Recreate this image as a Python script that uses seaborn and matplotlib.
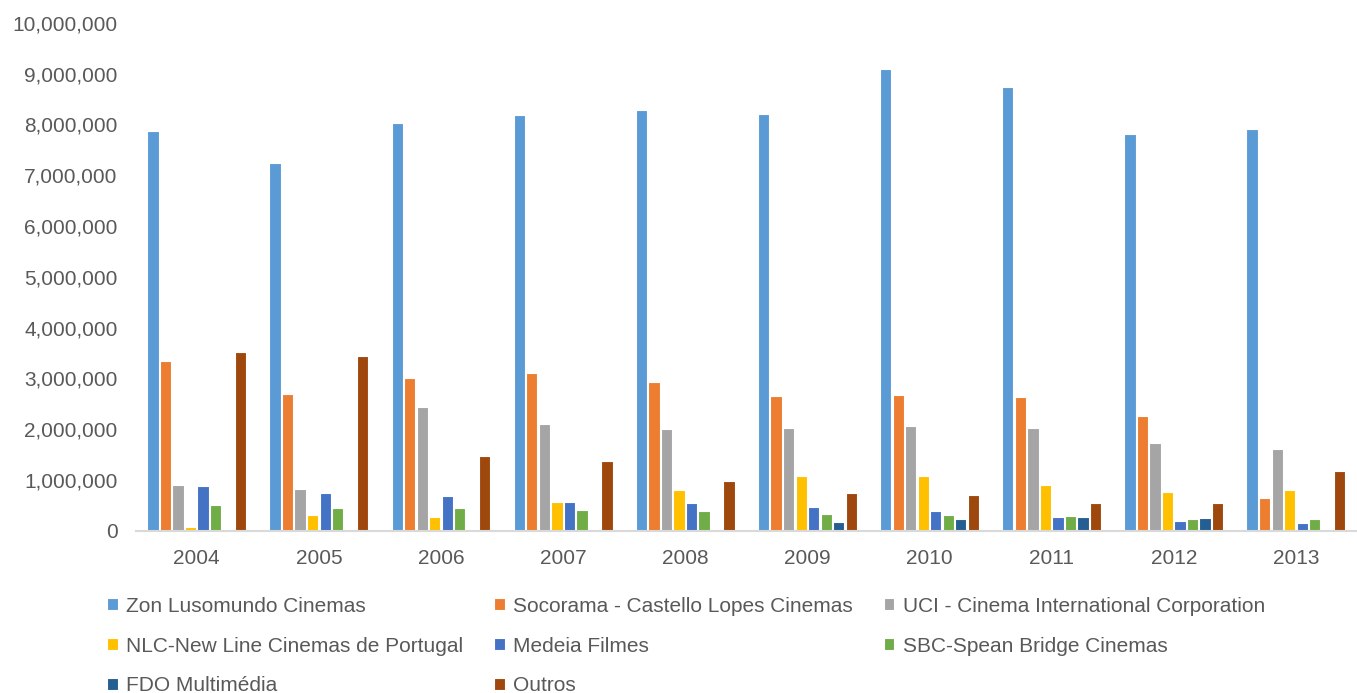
import pandas as pd
import matplotlib.pyplot as plt
import seaborn as sns
from matplotlib.ticker import FuncFormatter

# Years on the x axis
years = ['2004', '2005', '2006', '2007', '2008', '2009', '2010', '2011', '2012', '2013']

# Spectators per exhibitor
zon = [7870000, 7240000, 8030000, 8190000, 8290000, 8210000, 9090000, 8740000, 7810000, 7910000]
socorama = [3340000, 2700000, 3010000, 3100000, 2930000, 2660000, 2670000, 2640000, 2260000, 640000]
uci = [910000, 830000, 2430000, 2100000, 2010000, 2030000, 2070000, 2030000, 1730000, 1610000]
nlc = [80000, 320000, 270000, 560000, 800000, 1070000, 1070000, 910000, 770000, 810000]
medeia = [890000, 740000, 680000, 570000, 550000, 470000, 390000, 270000, 190000, 150000]
sbc = [500000, 450000, 450000, 410000, 390000, 330000, 310000, 300000, 240000, 240000]
fdo = [0, 0, 0, 0, 40000, 180000, 240000, 280000, 260000, 0]
outros = [3520000, 3440000, 1480000, 1380000, 980000, 750000, 700000, 550000, 540000, 1170000]

series_names = ['Zon Lusomundo Cinemas', 'Socorama - Castello Lopes Cinemas',
                'UCI - Cinema International Corporation', 'NLC-New Line Cinemas de Portugal',
                'Medeia Filmes', 'SBC-Spean Bridge Cinemas', 'FDO Multimédia', 'Outros']
series_values = [zon, socorama, uci, nlc, medeia, sbc, fdo, outros]
colors = ['#5B9BD5', '#ED7D31', '#A5A5A5', '#FFC000', '#4472C4', '#70AD47', '#255E91', '#9E480E']

# Long-form table for seaborn
rows = []
for name, vals in zip(series_names, series_values):
    for y, v in zip(years, vals):
        rows.append({'Ano': y, 'Exibidor': name, 'Espectadores': v})
df = pd.DataFrame(rows)

plt.rcParams['font.family'] = ['Liberation Sans', 'DejaVu Sans']

fig = plt.figure(figsize=(13.57, 6.93), dpi=100)
ax = fig.add_axes([0.1, 0.234, 0.9, 0.733])

sns.barplot(data=df, x='Ano', y='Espectadores', hue='Exibidor', hue_order=series_names,
            palette=colors, width=0.82, gap=0.1, edgecolor='white', linewidth=0.8,
            saturation=1, ax=ax)

ax.set_ylim(0, 10000000)
ax.set_yticks(range(0, 10000001, 1000000))
ax.yaxis.set_major_formatter(FuncFormatter(lambda v, p: f'{int(v):,}'))
ax.set_xlabel('')
ax.set_ylabel('')
for s in ['top', 'right', 'left']:
    ax.spines[s].set_visible(False)
ax.spines['bottom'].set_color('#D9D9D9')
ax.spines['bottom'].set_linewidth(1.5)
ax.tick_params(axis='both', length=0, labelsize=15, labelcolor='#595959')
ax.tick_params(axis='y', pad=13)
ax.tick_params(axis='x', pad=13)

# Legend laid out row-wise in 3 columns
handles, labels = ax.get_legend_handles_labels()
ax.get_legend().remove()
order = [0, 3, 6, 1, 4, 7, 2, 5]
fig.legend([handles[i] for i in order], [labels[i] for i in order],
           loc='upper left', bbox_to_anchor=(0.079, 0.139), ncol=3, frameon=False,
           fontsize=15, labelcolor='#595959', handlelength=0.5, handleheight=0.5,
           handletextpad=0.4, columnspacing=1.5, labelspacing=1.0,
           borderpad=0, borderaxespad=0)

fig.savefig('out.png', dpi=100)
